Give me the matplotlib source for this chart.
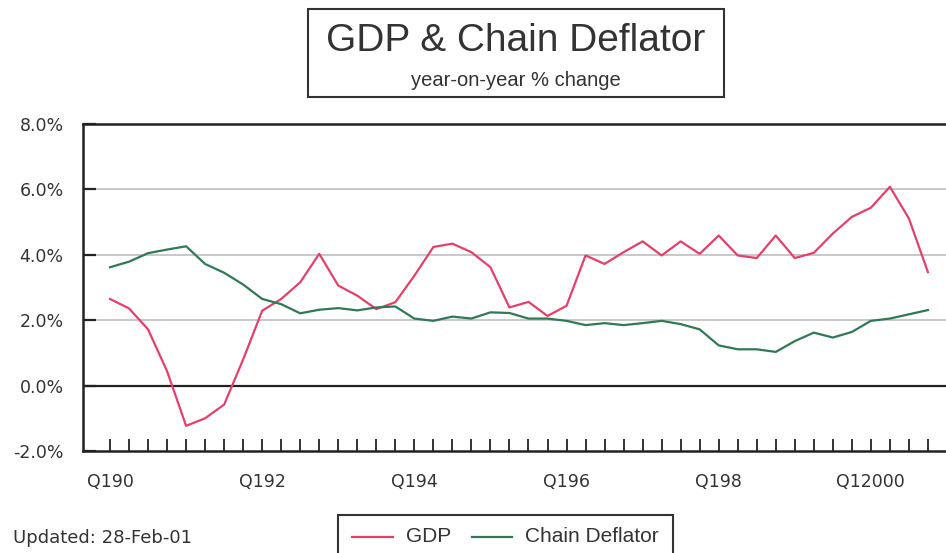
import numpy as np
import matplotlib.pyplot as plt
from matplotlib.patches import Rectangle
from matplotlib.lines import Line2D

# Quarterly data, Q1 1990 .. Q4 2000 (year-on-year % change)
gdp = [2.65, 2.36, 1.72, 0.44, -1.23, -1.00, -0.58, 0.80, 2.29, 2.65,
       3.16, 4.03, 3.06, 2.75, 2.34, 2.55, 3.36, 4.24, 4.34, 4.08,
       3.62, 2.39, 2.56, 2.13, 2.44, 3.98, 3.72, 4.08, 4.41, 3.98,
       4.41, 4.03, 4.59, 3.98, 3.90, 4.59, 3.90, 4.06, 4.65, 5.16,
       5.44, 6.08, 5.11, 3.47]
deflator = [3.62, 3.79, 4.05, 4.16, 4.26, 3.72, 3.45, 3.09, 2.65, 2.49,
            2.21, 2.32, 2.37, 2.30, 2.39, 2.42, 2.05, 1.98, 2.11, 2.05,
            2.24, 2.22, 2.05, 2.05, 1.98, 1.85, 1.91, 1.85, 1.91, 1.98,
            1.88, 1.72, 1.23, 1.11, 1.11, 1.03, 1.36, 1.62, 1.47, 1.64,
            1.98, 2.05, 2.18, 2.31]
tick_labels = ['Q190', 'Q192', 'Q194', 'Q196', 'Q198', 'Q12000']
y_ticks = [-2, 0, 2, 4, 6, 8]

red = '#e4406a'
green = '#2f7a55'
W, H = 946, 553

fig = plt.figure(figsize=(W / 100, H / 100), dpi=100)
ax = fig.add_axes([83 / W, 1 - 451 / H, 1 - 83 / W, (451 - 124) / H])

x = np.arange(len(gdp))
for yv in [2, 4, 6]:
    ax.axhline(yv, color='#c4c4c4', lw=1.3, zorder=1)
ax.axhline(0, color='#222222', lw=1.6, zorder=1)
ax.plot(x, gdp, color=red, lw=1.6, zorder=3)
ax.plot(x, deflator, color=green, lw=1.6, zorder=3)

ax.set_xlim(-1.42, 43.95)
ax.set_ylim(-2, 8)

ax.set_xticks(x)
labels = [''] * len(x)
for i, lab in enumerate(tick_labels):
    labels[i * 8] = lab
ax.set_xticklabels(labels)
ax.set_yticks(y_ticks)
ax.set_yticklabels(['%.1f%%' % v for v in y_ticks])

ax.tick_params(axis='x', direction='in', length=9, width=1.3, color='#222222',
               pad=16, labelsize=12.5, labelcolor='#333333')
ax.tick_params(axis='y', direction='in', length=9, width=1.6, color='#222222',
               pad=14, labelsize=12.5, labelcolor='#333333')
for s in ['left', 'top', 'bottom']:
    ax.spines[s].set_linewidth(1.8)
    ax.spines[s].set_color('#222222')
ax.spines['right'].set_visible(False)

# Title box
fig.patches.append(Rectangle((308 / W, 1 - 97 / H), (724 - 308) / W, (97 - 9) / H,
                             transform=fig.transFigure, fill=False,
                             edgecolor='#333333', lw=1.5))
fig.text(516 / W, 1 - 41 / H, 'GDP & Chain Deflator', ha='center', va='center',
         fontsize=28, family='Liberation Sans', color='#333333')
fig.text(516 / W, 1 - 80 / H, 'year-on-year % change', ha='center', va='center',
         fontsize=14.5, family='Liberation Sans', color='#333333')

fig.text(13 / W, 1 - 538 / H, 'Updated: 28-Feb-01', ha='left', va='center',
         fontsize=13, color='#333333')

# Legend box
fig.patches.append(Rectangle((338 / W, 1 - 565 / H), (673 - 338) / W, (565 - 515) / H,
                             transform=fig.transFigure, fill=False,
                             edgecolor='#333333', lw=1.5))
ly = 1 - 537 / H
fig.lines.append(Line2D([352 / W, 393 / W], [ly, ly], transform=fig.transFigure,
                        color=red, lw=1.6))
fig.lines.append(Line2D([472 / W, 512 / W], [ly, ly], transform=fig.transFigure,
                        color=green, lw=1.6))
fig.text(406 / W, ly, 'GDP', ha='left', va='center', fontsize=15,
         family='Liberation Sans', color='#333333')
fig.text(525 / W, ly, 'Chain Deflator', ha='left', va='center', fontsize=15,
         family='Liberation Sans', color='#333333')

fig.savefig('out.png', dpi=100)
